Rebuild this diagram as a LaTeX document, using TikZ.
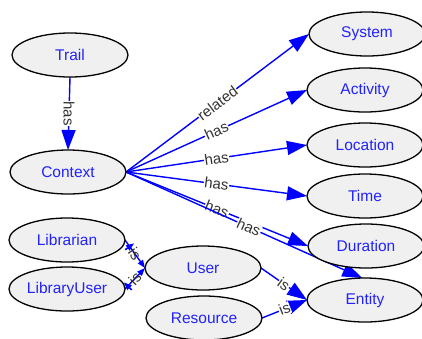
\documentclass[tikz,border=0pt]{standalone}
\usepackage{fontspec}
\setmainfont{Liberation Sans}
\usetikzlibrary{shapes.geometric,arrows.meta,decorations.markings}
\pgfdeclarelayer{background}
\pgfsetlayers{background,main}
\definecolor{nodefill}{HTML}{F0F0F0}
\definecolor{nodetext}{HTML}{2222FF}
\definecolor{edgeblue}{HTML}{0000FF}
\definecolor{labelgray}{HTML}{333333}
\begin{document}
\begin{tikzpicture}[x=1pt,y=-1pt,
  concept/.style={ellipse, draw=black, line width=1.3pt, fill=nodefill,
    text=nodetext, font=\fontsize{15.5}{18}\selectfont,
    minimum width=116pt, minimum height=44pt, inner sep=0pt, outer sep=0pt},
  rel/.style={draw=edgeblue, line width=1.4pt,
    -{Triangle[length=20pt,width=14pt]}},
  smallrel/.style={draw=edgeblue, line width=1.4pt,
    -{Triangle[length=8pt,width=6pt]}},
  lbl/.style={font=\fontsize{15}{17}\selectfont, text=labelgray,
    fill=white, inner sep=0.5pt},
  tee/.style={postaction={decorate, decoration={markings,
    mark=at position #1 with {\draw[edgeblue, line width=1.6pt] (0,-5.5pt) -- (0,5.5pt);}}}},
]
\useasboundingbox (0,0) rectangle (422,338);

% concepts
\node[concept] (trail) at (70,55)   {Trail};
\node[concept] (ctx)   at (68,172)  {Context};
\node[concept] (sys)   at (367,34)  {System};
\node[concept] (act)   at (365,90)  {Activity};
\node[concept] (loc)   at (365,145) {Location};
\node[concept] (time)  at (365,196) {Time};
\node[concept] (dur)   at (366,246) {Duration};
\node[concept] (ent)   at (365,300) {Entity};
\node[concept] (libr)  at (67,240)  {Librarian};
\node[concept] (lu)    at (67,289)  {LibraryUser};
\node[concept] (usr)   at (203,268) {User};
\node[concept] (res)   at (204,318) {Resource};

% relations
\begin{pgfonlayer}{background}
\draw[rel] (trail.south) -- node[midway, lbl, rotate=-90] {has} (ctx.north);
\draw[rel] (ctx.east) -- node[midway, sloped, lbl] {related} (sys.west);
\draw[rel] (ctx.east) -- node[midway, sloped, lbl] {has} (act.west);
\draw[rel] (ctx.east) -- node[midway, sloped, lbl] {has} (loc.west);
\draw[rel] (ctx.east) -- node[midway, sloped, lbl] {has} (time.west);
\draw[rel] (ctx.east) -- node[midway, sloped, lbl] {has} (dur.west);
\draw[rel] (ctx.east) -- node[pos=0.52, sloped, lbl] {has} (ent.97);
\draw[smallrel, tee=8pt] (libr.east) -- node[midway, sloped, lbl, fill=none] {is} (usr.west);
\draw[smallrel, tee=4pt] (lu.east) -- node[midway, sloped, lbl, fill=none] {is} (usr.west);
\draw[rel] (usr.east) -- node[midway, sloped, lbl] {is} (ent.west);
\draw[rel] (res.east) -- node[midway, sloped, lbl] {is} (ent.west);
\end{pgfonlayer}
\end{tikzpicture}
\end{document}
